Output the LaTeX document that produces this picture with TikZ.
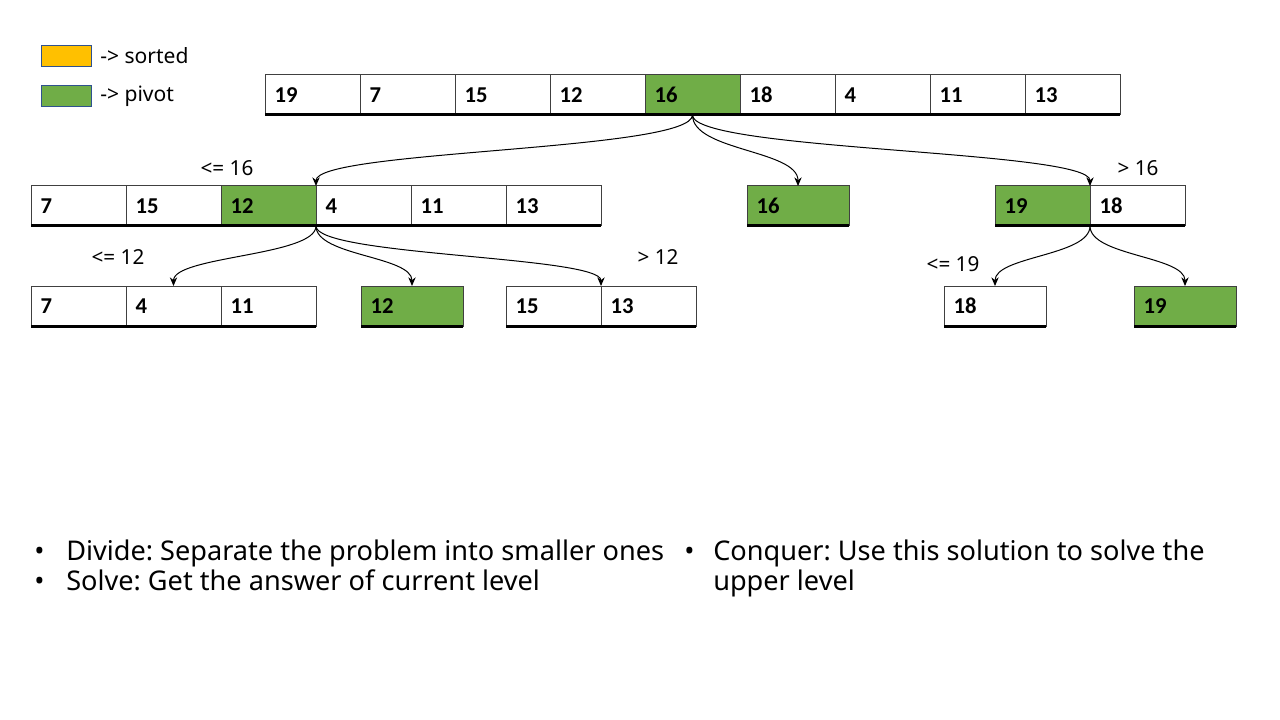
\documentclass[tikz,border=0pt]{standalone}
\usepackage{fontspec}
\usetikzlibrary{arrows.meta,calc}
\frenchspacing
\newfontfamily\uifont{Noto Sans}
\newfontfamily\cellfont{Carlito}
\definecolor{pivotgreen}{HTML}{70AD47}
\definecolor{sortorange}{HTML}{FFC000}
\definecolor{legendline}{HTML}{2F528F}
\definecolor{gridline}{HTML}{404040}
\tikzset{
  cell/.style={draw=gridline, line width=0.75pt, fill=white, anchor=north west,
    minimum height=30pt, text width=56.85pt, inner xsep=7.2pt, inner ysep=0pt, outer sep=0pt,
    align=left, font=\cellfont\bfseries\fontsize{17}{20}\selectfont},
  wide/.style={text width=62.1pt},
  piv/.style={fill=pivotgreen},
  bottomline/.style={line width=2.25pt, black},
  conn/.style={line width=0.75pt, -{Stealth[length=6.5pt,width=5.5pt]}},
  lbl/.style={font=\uifont\fontsize{15.5}{18}\selectfont, inner sep=0pt},
  legtext/.style={font=\uifont\fontsize{15.8}{19}\selectfont, inner sep=0pt, anchor=west},
  legbox/.style={draw=legendline, line width=0.75pt, minimum width=37.5pt, minimum height=15.75pt, inner sep=0pt, anchor=north west},
  bullettext/.style={font=\uifont\fontsize{20.35}{24}\selectfont, anchor=base west, inner sep=0pt},
}
\begin{document}
\begin{tikzpicture}[x=0.75pt, y=-0.75pt]
\useasboundingbox[fill=white] (0,0) rectangle (1280,720);
% legend
\node[legbox, fill=sortorange] (ls) at (41,45) {};
\node[legbox, fill=pivotgreen] (lp) at (41,85) {};
\node[legtext] (lst) at (100,56) {-> sorted};
\node[legtext] (lpt) at (100,96) {-> pivot};
% top array
\node[cell] (t1) at (265,75) {19};
\node[cell] (t2) at (t1.north east) {7};
\node[cell] (t3) at (t2.north east) {15};
\node[cell] (t4) at (t3.north east) {12};
\node[cell, piv] (t5) at (t4.north east) {16};
\node[cell] (t6) at (t5.north east) {18};
\node[cell] (t7) at (t6.north east) {4};
\node[cell] (t8) at (t7.north east) {11};
\node[cell] (t9) at (t8.north east) {13};
\draw[bottomline] (t1.south west) -- (t9.south east);
% second row left
\node[cell] (l1) at (31,186) {7};
\node[cell] (l2) at (l1.north east) {15};
\node[cell, piv] (l3) at (l2.north east) {12};
\node[cell] (l4) at (l3.north east) {4};
\node[cell] (l5) at (l4.north east) {11};
\node[cell] (l6) at (l5.north east) {13};
\draw[bottomline] (l1.south west) -- (l6.south east);
% second row middle
\node[cell, wide, piv] (m1) at (747,186) {16};
\draw[bottomline] (m1.south west) -- (m1.south east);
% second row right
\node[cell, piv] (r1) at (995,186) {19};
\node[cell] (r2) at (r1.north east) {18};
\draw[bottomline] (r1.south west) -- (r2.south east);
% third row
\node[cell] (a1) at (31,286) {7};
\node[cell] (a2) at (a1.north east) {4};
\node[cell] (a3) at (a2.north east) {11};
\draw[bottomline] (a1.south west) -- (a3.south east);
\node[cell, wide, piv] (b1) at (361,286) {12};
\draw[bottomline] (b1.south west) -- (b1.south east);
\node[cell] (c1) at (506,286) {15};
\node[cell] (c2) at (c1.north east) {13};
\draw[bottomline] (c1.south west) -- (c2.south east);
\node[cell, wide] (d1) at (944,286) {18};
\draw[bottomline] (d1.south west) -- (d1.south east);
\node[cell, wide, piv] (e1) at (1134,286) {19};
\draw[bottomline] (e1.south west) -- (e1.south east);
% labels
\node[lbl] (q1) at (227,168) {<= 16};
\node[lbl] (q2) at (1138,168) {> 16};
\node[lbl] (q3) at (118,257) {<= 12};
\node[lbl] (q4) at (658,257) {> 12};
\node[lbl] (q5) at (953,264) {<= 19};
% connectors
\draw[conn] (t5.south) .. controls +(0,36) and +(0,-36) .. (l3.north east);
\draw[conn] (t5.south) .. controls +(0,36) and +(0,-36) .. (m1.north);
\draw[conn] (t5.south) .. controls +(0,36) and +(0,-36) .. (r1.north east);
\draw[conn] (l3.south east) .. controls +(0,30) and +(0,-30) .. (a2.north);
\draw[conn] (l3.south east) .. controls +(0,30) and +(0,-30) .. (b1.north);
\draw[conn] (l3.south east) .. controls +(0,30) and +(0,-30) .. (c1.north east);
\draw[conn] (r1.south east) .. controls +(0,30) and +(0,-30) .. (d1.north);
\draw[conn] (r1.south east) .. controls +(0,30) and +(0,-30) .. (e1.north);
% bullets
\node[bullettext] (b1a) at (34,560) {•};
\node[bullettext] (b1t) at (66,560) {Divide: Separate the problem into smaller ones};
\node[bullettext] (b2a) at (34,590) {•};
\node[bullettext] (b2t) at (66,590) {Solve: Get the answer of current level};
\node[bullettext] (b3a) at (684,560) {•};
\node[bullettext] (b3t) at (713,560) {Conquer: Use this solution to solve the};
\node[bullettext] (b3u) at (713,590) {upper level};
\end{tikzpicture}
\end{document}
